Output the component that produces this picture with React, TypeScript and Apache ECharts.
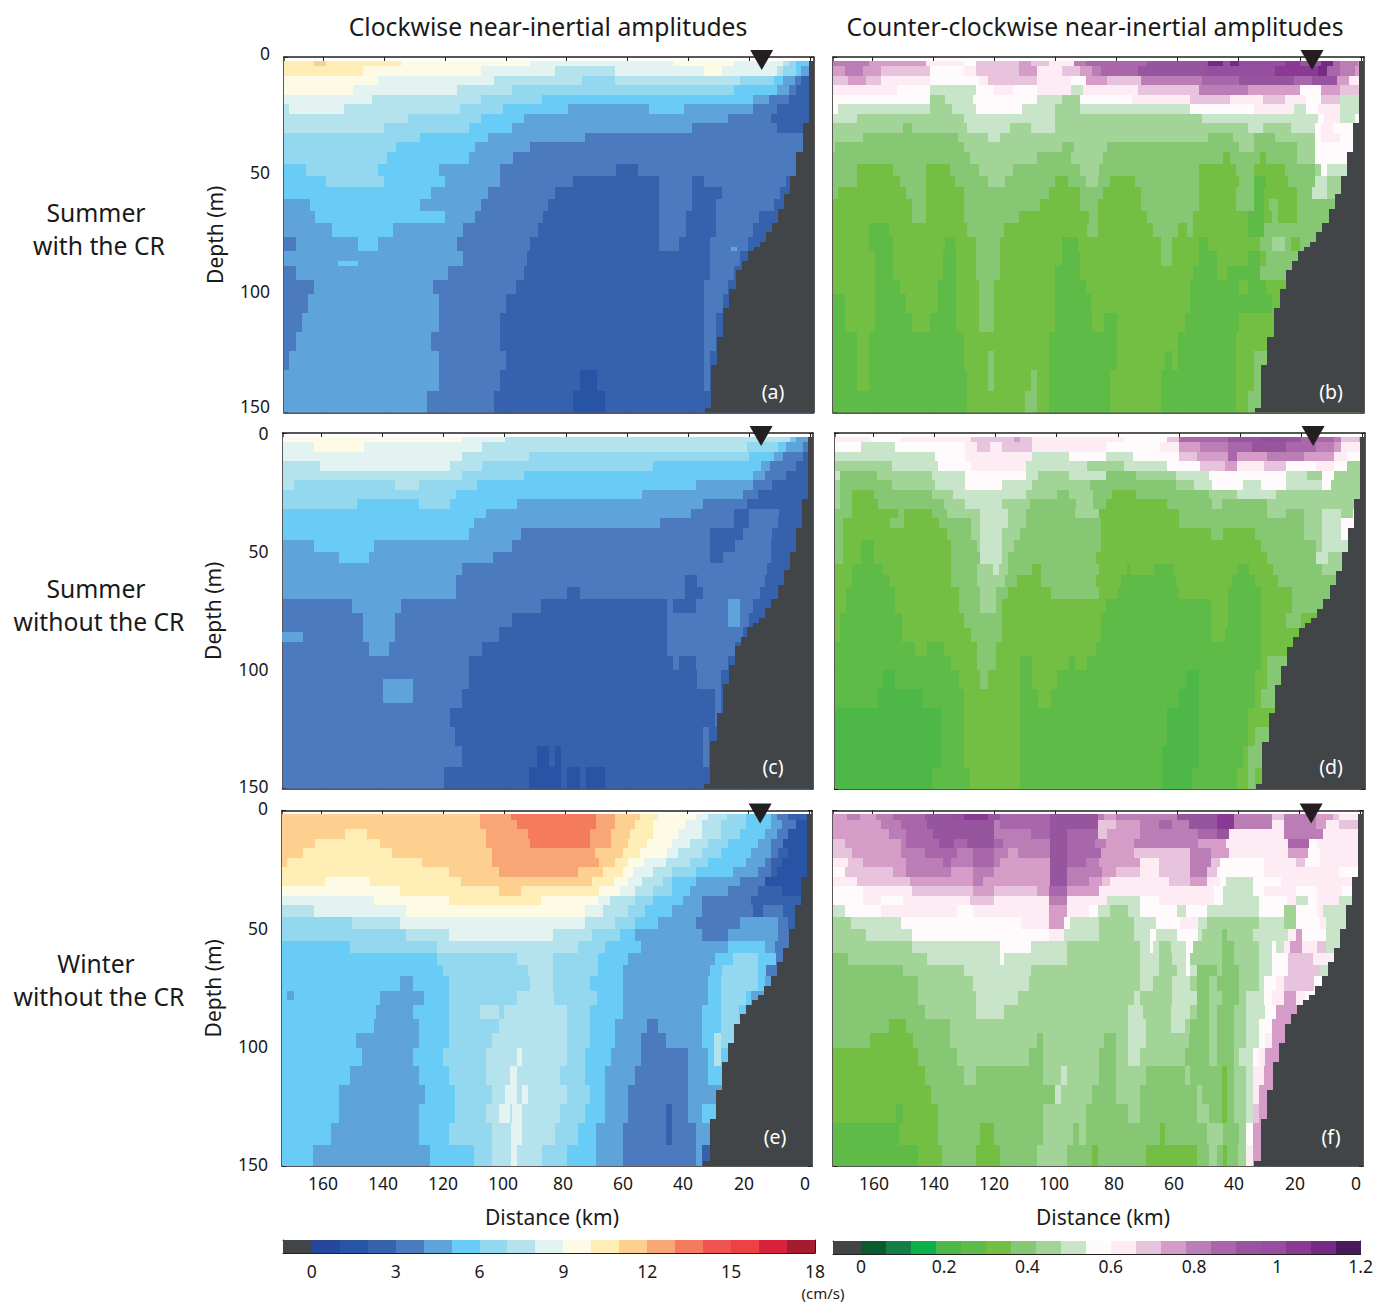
import React, { useEffect, useRef } from "react";
import * as echarts from "echarts";

const FONT = "Noto Sans";
const INK = "#231f20";
const LAND = "#414548";

// colour classes (one per 1 cm/s for clockwise, one per 0.06 cm/s for counter-clockwise)
const CW_COLORS = ["#26479c","#2754a4","#3662ad","#4b7abe","#5ea4da","#68ccf6","#93d8ee","#b4e2ed","#e3f3f2","#fdfbe5","#feedb4","#fed08f","#f9a677","#f47b5e","#ef5350","#ee4144","#d9233b","#a51c30"];
const CCW_COLORS = ["#0a5c2e","#127f45","#0db14b","#4db848","#5fbb47","#72bf44","#86c773","#a2d498","#c9e5c9","#fffbfd","#fdecf4","#e8c3dd","#d49cc7","#bb7db6","#a966aa","#98559f","#964fa0","#8a3a94","#762a83","#481a57"];
const CW_STEP = 1;
const CCW_STEP = 0.06;

const DISTANCE_TICKS = [160, 140, 120, 100, 80, 60, 40, 20, 0];
const DISTANCE_LABEL_SHIFT = [2, 1, 0, -1, -2, -3, -4, -4, -4];
const DEPTH_TICKS = [0, 50, 100, 150];
const CW_BAR_TICKS = [0, 3, 6, 9, 12, 15, 18];
const CCW_BAR_TICKS = [0, 0.2, 0.4, 0.6, 0.8, 1, 1.2];
const STATION_KM = 16;

// depth layers (m) shared by every section; each row string holds "class:endKm" runs from offshore to the coast
const DEPTH_EDGES = [1.5,4,8,12,16,20,24,28,32,36,40,45,50,55,60,65,70,76,82,88,94,100,108,116,124,132,141,150];

const SECTION_A = [
"A:163 B:159 A:134.5 9:92 8:45 9:25 8:9 7:7 6:4.7 5:0",
"A:147 9:108 8:84 7:64 8:35 9:29 8:11 7:9 6:4.7 5:3 4:0",
"9:142 8:104 7:75 6:64 7:23 6:12 5:9 4:5 3:3 2:0",
"9:150 8:116 7:98 6:25 5:11 4:7 3:4.7 2:0",
"8:144 7:108 6:88 5:19 4:13.5 3:7 2:0",
"7:171 8:153 7:115 6:101 5:79.5 4:53 5:41.5 4:19 3:11 2:0",
"7:132 6:108 5:94 4:27 3:13 2:0",
"7:140 6:112 5:98 4:39 3:11 2:3",
"6:128 5:106 4:74 3:0",
"6:136 5:110 4:92 3:0",
"6:139 5:112 4:97.7 3:0",
"5:165.5 6:142 5:122 4:102 3:63.7 2:56.7 3:0",
"5:159 6:140 5:120 4:102 3:78 2:49.7 3:39 2:35 3:8 2:0",
"5:124.6 4:106 3:84 2:49.7 3:39 2:29 3:10 2:0",
"4:164.3 5:128 4:108 3:86 2:49.7 3:39 2:31 3:12 2:0",
"4:162.6 5:120 4:110 3:87.7 2:49.7 3:41 2:31 3:17 2:0",
"4:157 5:137 4:114 3:89.5 2:49.7 3:41 2:31 3:19 2:0",
"3:169 4:148.5 5:142 4:116 3:92 2:49.7 3:43 2:33 3:20.5 2:0",
"4:114 3:93 2:33 3:23 2:0",
"3:169 4:119 3:94 2:33 3:25 2:0",
"3:163 4:124 3:96.5 2:35 3:27 2:0",
"3:165 4:122 3:100 2:35 3:28.7 2:0",
"3:167 4:122 3:102 2:35 3:31 2:0",
"3:169 4:124.6 3:102 2:35 3:31 2:0",
"3:171 4:122 3:100 2:35 3:33 2:0",
"4:122 3:102 2:75.7 1:70 2:35 3:33 2:0",
"4:126 3:104 2:77.8 1:67.5 2:0",
];
const PATCHES_A = [[86,88,155,148.5,5],[80,82,26,24,4]];

const SECTION_B = [
"d:161 c:142.5 a:130 9:126 b:112 c:108 b:102 a:94 d:90 e:70 f:50 i:45 g:43 i:40 g:25 h:20 f:13 i:9 e:7 d:1 c:0",
"c:169 d:163 c:157 b:141 9:130 a:126 b:112 c:106 a:98 b:92 c:88 d:85 e:73 f:51 g:28 h:14 i:11 e:7 d:2 c:0",
"b:168 c:162 b:157 a:141 9:125 a:122 b:106 a:95 9:90 c:83 b:72 d:52 e:40 f:22 e:16 f:8 c:4 a:0",
"a:152 9:141 8:126 9:120 a:114 9:106 a:95 8:91 a:73 b:53 d:37 c:20 9:13 c:7 b:0",
"9:141 7:136 8:127 9:106 8:98 7:92 9:75 a:56 b:43 a:32 b:25 a:18 9:13 b:7 8:0",
"9:171 8:141 7:134 8:126 9:111 8:100 7:92 8:56 9:35 a:22 8:18 9:14 a:7 8:0",
"8:165 7:130 8:100 7:52 8:14 9:12 a:7 8:2 9:0",
"7:150 6:147 7:129 8:115 7:108 8:100 7:37 8:32 7:23 8:15 9:13 a:9 9:0",
"7:163 6:132 7:122 8:118 7:50 6:42 7:35 6:28 7:15 9:13 a:7 9:0",
"7:172 6:130 7:98 6:94 7:83 6:40 7:35 6:21 7:15 9:5",
"6:128 7:106 6:95 7:84.5 6:45 5:43 6:33 5:31 6:21 7:15 9:7",
"6:165 5:153 6:142.5 5:134.5 6:125 7:114 6:92 7:85.6 6:53 5:41 6:35 5:25 6:15 7:13 9:11 8:7",
"6:165 5:151 6:142.5 5:133 6:122 7:116.6 6:100 5:96 6:90 7:86 6:82 5:74 6:53 5:40 6:35 4:31 5:24 6:15 8:11 7:7",
"6:171 5:149 6:142.5 5:130 6:102 5:92 6:84.5 5:72 6:53 5:41 6:35 4:31.6 5:21 6:16 8:11 7:8",
"5:147 6:142.5 5:130 6:105 5:92 6:86 5:72 6:53 5:41 6:35 4:31.6 5:30 6:27 5:21 6:8",
"5:147 6:142.5 5:130 6:112 5:89 6:86 5:70 6:55 5:37 4:31.6 5:29 6:27 5:21 6:11",
"5:161 4:154.6 5:129 6:116.7 5:89.6 6:86 5:68 6:60 5:57 6:55 5:37 4:31.6 6:15",
"5:161 4:153 5:136 4:132.8 5:126 6:118 5:98 4:92.5 5:65.5 6:62 5:53 4:50 5:33 6:29 7:25 6:23 5:20 6:15",
"5:159 4:153 5:136.8 4:132.5 5:126 6:118 5:98 4:92 5:65.5 6:62 5:53 4:47 5:37 4:33 5:31 6:24.7",
"5:159 4:153 5:136.8 4:132.5 5:126 6:118 5:100 4:92 5:55 4:47 5:44 4:33 6:27",
"5:159 4:151 5:138.5 4:132.5 5:125 6:120 5:100 4:90 5:56 4:40 5:37 4:31 5:0",
"4:169 5:159 4:149 5:138.5 4:132.5 5:125 6:120 5:100 4:88.5 5:56 4:29 5:0",
"4:169 5:159 4:147 5:141 4:132.5 5:125 6:120 5:100 4:88 5:84 4:80 5:57.5 4:40 5:0",
"4:165 5:161 4:130 5:102 4:80 5:60 4:41 5:0",
"4:165 5:161 4:130 5:122 6:120 5:102 4:80 5:64 4:62 5:60 4:41 5:35 6:33",
"4:165 5:161 4:129 5:122 6:120 5:108 6:106 5:102 4:82 5:65.5 4:41 5:35 6:0",
"4:129 5:110 6:106 5:102 4:82 5:65.5 4:41 5:37 6:0",
];

const SECTION_C = [
"9:114 8:100 7:6.4 5:4.7 4:0",
"8:162.5 9:146 8:107.6 7:20.5 6:10.5 5:8 4:2.3 3:0",
"8:114 7:92 6:20 5:11.7 4:8.8 3:2.3 2:0",
"7:160.6 8:118 7:107.6 6:51.5 5:16 4:13 3:4.7 2:0",
"7:114 6:93.6 5:18.7 4:14.6 3:8 2:0",
"7:169 6:136 7:128 6:109 5:37.4 4:18.7 3:12.3 2:0",
"6:116 5:55 4:22 3:17 2:0",
"6:148.5 5:128 6:118 5:96 4:35 3:20.5 2:0",
"5:106 4:39 3:25 2:20 3:10 2:0",
"5:110 4:49 3:25 2:20 3:10.5 2:0",
"5:111.7 4:94.7 3:32.7 2:22 3:12.3 2:0",
"4:162.6 5:142.7 4:97.7 3:32.7 2:24.6 3:12.9 2:0",
"4:154.4 5:144.4 4:104 3:32.7 2:28.6 3:12.9 2:0",
"4:114 3:14 2:0",
"4:115.8 3:41 2:37 3:14.6 2:0",
"4:115.8 3:79.5 2:75.4 3:41 2:35 3:16.4 2:0",
"3:150 4:134 3:88 2:46.8 3:45 2:37.4 3:27 4:22.8 3:18.7 2:0",
"3:146.4 4:136 3:97.7 2:46.8 3:27 4:22.8 3:20 2:0",
"3:146.4 4:136 3:102 2:46.8 3:22 2:0",
"3:144.4 4:138 3:107.6 2:46.8 3:24.6 2:0",
"3:111.7 2:45 3:43 2:37.4 3:27 2:0",
"3:111.7 2:37 3:29 2:0",
"3:114 2:31 3:29 2:0",
"3:118 2:31 3:29 2:0",
"3:116.4 2:35 3:33 2:0",
"3:114 2:89.5 1:85.6 2:83.6 1:81.6 2:35 3:33 2:0",
"3:120 2:92 1:81.6 2:79.5 1:75.4 2:73.5 1:67 2:0",
];
const PATCHES_C = [[84,88,173,166,4],[104,114,140,130,4]];

const SECTION_D = [
"a:161 9:151 a:128 b:114 c:112 b:108 a:78 9:64 b:60 e:44 f:33 g:25 f:20 e:9 d:7 b:1 c:0",
"9:164 8:153 9:130 a:126 b:122 a:118 b:108 a:84 9:66 a:60 c:53 d:44 e:36 f:25 e:15 d:9 c:7 a:0",
"8:140 9:130 a:108 8:96 9:84 8:75 9:60 b:54 c:44 e:41 c:31 d:19 c:9 a:5 9:0",
"7:154 8:139 9:128 a:110 8:90 7:78 8:64 9:53 b:45 c:41 a:32 b:25 9:15 a:9 9:5 7:0",
"8:171 6:159 7:141 8:130 9:110 8:106 7:96 8:84 6:74 7:61 8:50 9:25 8:18 7:13 9:9 7:0",
"7:171 6:154 7:140 8:130 9:118 8:108 7:89 6:61 7:55 8:49 9:39 8:33 9:25 8:13 9:10 7:0",
"7:171 6:167 5:160 6:141 7:134 8:110 7:100 6:96 7:88 6:82 5:74 6:50 7:41 8:28 7:0",
"7:171 6:167 5:158.6 6:137 7:130 8:118 7:108.6 6:93.7 7:88 6:84 5:64 6:49 7:46 6:31 7:10",
"6:167 5:152 6:150 5:141 6:136 7:125 8:116 7:110 6:94 7:86 5:60 6:31 7:25 6:19 7:13 8:7 7:3 9:0",
"6:170 5:154.6 6:150 5:138.5 6:128 7:125 8:116 7:110 6:85.6 5:60 6:19 7:13 8:7 9:5",
"6:170 5:136 6:128 7:125 8:118 7:112 6:85.6 5:49.4 6:45.4 5:35 6:19 7:13 8:7 9:5",
"6:170 5:164 4:160 5:134.5 6:126 7:125 8:118 7:114 6:85.6 5:33 6:15 7:13 8:7",
"6:170 5:164 4:160 5:134.5 6:125 8:118 7:116 6:87 5:31 6:15 8:11 7:7",
"5:167 4:157 5:134.5 6:126 7:121 8:119 7:116 6:108 5:105 6:86 5:77 4:76 5:68 4:62 5:41 4:37 5:29 6:13 7:0",
"5:167 4:154.6 5:134.5 6:126 7:117 6:113 5:105 6:87 5:79 4:61 5:42.5 4:35 5:27.5 6:11",
"5:169 4:153 5:132 6:125 7:120 6:116 5:102 6:86 5:80 4:60 5:44 4:33 5:23 6:12",
"5:169 4:153 5:132 6:125 7:120 6:118 5:84 4:49.4 5:44 4:33 5:23 6:15",
"5:171 4:150.6 5:130.5 6:118 5:85.6 4:49.4 5:44 4:33 5:25 6:20 5:0",
"5:171 4:150.6 5:128 6:118 5:85.6 4:49.4 5:45 4:33 5:0",
"4:146.5 5:142.5 4:137 5:126 6:120 5:87 4:33 5:0",
"4:134.5 5:126 6:120 5:112 4:108 5:96 4:94 5:90 4:33 5:31 6:29",
"4:157 3:153 4:132 5:125 6:122.5 5:112 4:108 5:100 4:57.5 3:53.4 4:35 5:31 6:29",
"4:158.6 3:144 4:130.5 5:112 4:106 5:102 4:60 3:53.4 4:35 5:33 6:29",
"3:138 4:130.5 5:112 4:64 3:53.4 4:37.4 5:0",
"3:138 4:130.5 5:112 4:64 3:53.4 4:37.4 5:35 6:33",
"3:138 4:130.5 5:112 4:65.5 3:53.4 4:39 5:37.4 6:33",
"3:141 4:128.5 5:112 4:65.5 3:55.7 4:41 5:37.4 6:35 5:0",
];

const SECTION_E = [
"B:108 C:97.8 D:69.7 C:63.5 B:55.3 A:49.5 9:37.2 8:33 7:27 6:20.8 5:12.6 4:10.6 3:6.8 2:0",
"B:108 C:95.7 D:69.7 C:63.5 B:57 A:51 9:40.7 8:35 7:29 6:20.8 5:12.6 4:8.8 3:4.4 1:0",
"B:152 A:144.8 B:106 C:92 D:71.7 C:65 B:58.8 A:51 9:43 8:35 7:29 6:22.6 5:14.4 4:10.6 3:6.8 1:0",
"B:162 A:140.7 B:106 C:91.6 D:71.7 C:65 B:59.4 A:53 9:44.8 8:39 7:33 6:26.7 5:16.7 4:12.6 3:8.5 1:0",
"B:166 A:136.6 B:103.9 C:70 B:61 A:55.3 9:46.5 8:43 7:35 6:29 5:19 4:12.6 3:10 2:6.8 1:0",
"B:171 A:127 B:104 C:69 B:63.5 A:59.4 9:54 8:47 7:39 6:33 5:20.8 4:14.4 3:12.6 2:8.8 1:0",
"A:118 B:101.5 C:75.8 B:67.6 A:61 9:57.7 8:51 7:45 6:37 5:25 4:16.7 3:12.6 2:10.6 1:0",
"A:158.8 9:144 A:114 B:71 A:64 9:59.4 8:54.7 7:47.7 6:44.8 5:37 4:22.6 3:14.4 1:0",
"9:134 A:101.5 B:94.5 A:69 9:61.8 8:57 7:51 6:44.8 5:39 4:26.7 3:16.7 2:9 1:4.4",
"8:142.5 9:118 A:88 9:69.3 8:65.3 7:57 6:51 5:41.3 4:35 3:19 2:5",
"7:162.3 8:132 9:73.5 8:67.6 7:59.4 6:53.6 5:44.8 4:35 3:18.5 2:15 3:8.5 2:4.4",
"6:150 7:134 8:73.5 7:63.5 6:57 5:49.5 4:37 3:22.6 4:10.3 3:6.8 2:0",
"6:132 7:118 8:84 7:71 6:62 5:57 4:35 3:26.7 4:10.3 3:7",
"5:150.6 6:122 7:75.8 6:67 5:55 4:26.7 5:14.4 4:11 3:7",
"5:122 6:95.7 7:84 6:69.3 5:59.4 4:30.8 5:25 6:16.7 5:10.9 3:0",
"5:120 6:92 7:84 6:69.3 5:61 4:32.5 5:28.4 6:16.7 5:14 3:0",
"5:134 4:130 5:118 6:91.6 7:84 6:71.7 5:61 4:33 5:29 6:16.7 5:14.4 4:0",
"5:140.7 4:126.3 5:118 6:95.7 7:83.6 6:69.4 5:61 4:33 5:29 6:20.8 5:19 4:0",
"5:142 4:130 5:118 6:108 7:101.5 6:100 7:79.3 6:71.7 5:61 4:35 5:29 6:23 5:20.8",
"5:142.5 4:128 5:118 6:101.8 7:79.3 6:71.7 5:63.5 4:53 3:49.5 4:35 5:29 6:25",
"5:148.5 4:128 5:118 6:103.9 7:79.3 6:71.7 5:63.5 4:55 3:47 4:35 5:31 7:28.8 6:26.7",
"5:146.5 4:130 5:120 6:106 7:95.7 8:94 7:79.3 6:73.5 5:65 4:55 3:39.5 4:33 5:31 7:28.8 5:0",
"5:150.6 4:128 5:118 6:106 7:98 8:95.7 7:81.6 6:73.5 5:67 4:57 3:39.5 4:33 5:29",
"5:154 4:126 5:116 6:103.9 7:99.8 8:95.7 7:94 8:92 7:79.3 6:71.7 5:67 4:59.4 3:39.5 4:32.5",
"5:154 4:128 5:116 6:106 7:101.5 8:98 7:97.4 8:94 7:81.6 6:73.5 5:67 4:59.4 3:47 2:45 3:39.5 4:35 5:33",
"5:156.7 4:128 5:118 6:103.9 7:97.8 8:94 7:83.4 6:75.6 5:69.7 4:61 3:47 2:45 3:37 4:33",
"5:162.6 4:124.3 5:110 6:103.9 7:97.8 8:95.7 7:87.5 6:79.3 5:69.7 4:61 3:37 4:35 2:33",
];
const PATCHES_E = [[76,80,171,169,4]];

const SECTION_F = [
"c:168.3 d:164 c:158.6 d:153 e:142.5 f:134 g:130 h:122 f:118 e:101.7 f:86 d:84 c:80 d:60 f:47 h:41.4 d:29 b:25 d:14.4 c:9 b:7 a:0",
"c:157 d:150.6 e:142 f:120 d:118 e:101.7 f:86 b:80 c:72 d:66 e:61.5 d:56 f:47 h:41.4 d:29 a:25 d:14.4 c:11 a:7 b:0",
"c:154.6 d:149 e:140 f:120 d:108 e:101.7 f:96 e:86 b:83 c:72 d:53 e:47 f:43 a:25 d:12 a:0",
"b:169 c:150.6 d:149 e:138 f:133 e:129 f:120 e:117 d:101.7 f:96 e:87 d:83.3 c:74 d:53 c:44 a:23.6 e:16.7 9:14 a:0",
"b:166.6 c:150.6 d:142.5 e:132 d:127 e:120 d:115.5 c:112 d:101.7 f:96 e:85 c:74 b:55.7 d:49 c:43 a:23.6 c:17 9:13 a:0",
"a:168 b:163 c:149 d:136.8 e:134 d:127 e:120 d:118 c:101.7 f:96 e:89.7 d:85.6 c:72 a:66 b:55.7 d:49 b:46 9:31.6 a:21 b:18 9:13 a:0",
"9:169 b:153 c:149 d:134 c:127 d:120 c:101.7 f:96 d:84.5 c:80 b:72 a:66 b:55.7 d:50 b:47 9:31.6 a:7 9:1",
"a:165 b:147.7 c:127 d:123.6 c:101.7 f:96 d:89 c:84.5 b:82 a:62.6 b:55.7 c:50 a:46 9:44 8:35 9:26 a:0",
"9:163 a:147 b:127 c:120 b:106 c:102 e:96 c:85.6 a:48 9:45 8:35 9:31.6 a:21 9:14 a:6 9:0",
"9:163 a:157 9:150 a:128 b:120 a:102 d:96 a:83 8:72 9:66 a:48 9:45 8:33 9:24 a:21 8:17 9:14 a:7 8:3",
"8:169 9:157 a:132 9:127 a:102 c:96 a:89 9:86 8:82 7:76 8:72 9:60 8:57 9:50 8:33 9:25 7:21 9:14 a:12 8:7",
"7:167 8:150.6 9:111 a:102 c:97 9:95 8:85.6 7:74 8:67 9:59 a:53 8:50 7:33 8:25 7:21 9:13 a:11 8:7",
"7:162 8:147 9:102 a:97 8:85.6 7:74 8:69 9:67 8:60 9:53 8:51.7 7:45.4 6:43.7 7:35 8:23.6 a:21 c:19 9:11 8:7",
"7:147 8:118 9:108 8:96 7:72 8:69 9:67.8 8:66 7:62 8:57 9:54.6 7:45.4 6:41.4 7:33 8:29 9:27.5 8:25 a:23 c:19 a:14 b:11 8:8",
"6:168 7:142 8:118 9:116.6 8:96 7:72 8:66 7:61.5 8:57 9:55.7 7:45.4 6:41.4 7:33 8:29 9:23.6 b:15.5 a:11",
"6:150 7:130 8:108 7:72 8:66 7:60 8:57 9:55.7 8:53.4 6:47 7:45.4 6:39.6 7:33 8:29 9:23.6 b:13 8:11",
"6:145 7:127 8:108.6 7:72 8:68 7:61.5 8:55.7 7:53.4 6:49.4 7:47 6:39.6 7:33 8:31.6 9:27.5 a:25 b:15 9:13",
"6:145 7:126 8:112 7:74 8:72 7:61.5 8:53.4 6:49.4 7:45.4 6:39.6 7:37.4 8:31.6 9:29 a:25 c:21 a:18 9:0",
"6:142.5 7:126 8:116.7 7:76 8:71 7:62 8:55.7 7:53.4 6:49.4 7:47 6:41.4 7:37.4 8:31 9:27.6 c:21",
"6:154.6 5:149 6:134.5 7:76 8:70 7:62 8:57.5 7:55.7 6:49.4 7:47 6:41.4 7:37.4 8:33 9:29 c:25",
"6:160.6 5:146.6 6:134.5 7:106 6:104 7:84 6:80 7:76 8:70 7:56 6:49.4 7:47 6:41.4 7:37.4 8:33 9:31 a:29 c:27",
"5:145 6:132 7:108.6 6:104 7:85.6 6:80 7:76 8:72 7:57.5 6:49.4 7:47 6:41.4 7:39.6 8:35 9:33 a:31 c:29",
"5:142.5 6:130 7:126 6:104 7:98 8:96 7:85.6 6:80 7:70 6:57.5 7:55.7 6:45.4 5:43.7 6:41.4 7:37.4 8:35 a:31.6 c:29",
"5:140.8 6:100 8:98 7:88 6:80 7:72 6:53.4 7:51.7 6:45.4 5:43.7 6:41.4 7:37.4 8:35 a:33 c:31.6",
"5:152 4:150 5:138.5 6:104 7:89.7 6:76 7:72 6:53.4 7:49.4 6:45.4 5:43.7 6:41.4 7:37.4 8:35 b:33 c:31.6",
"4:151 5:138.5 6:124.7 5:120 6:104 7:94 6:92 7:89.7 6:65.5 5:64 6:50 7:45 6:39.6 7:37.4 9:35 c:33",
"4:145 5:137 6:126 5:118 6:106 7:96 6:88 5:86 6:70 5:53.4 6:49.4 7:47 6:45 5:43.7 6:40 7:37.4 a:35 c:33",
];

// the sea floor: 2 km wide columns going offshore, and the depth at which land starts in each
const SHELF_KM = [-1,0.6,2.6,4.6,6.6,8.6,10.6,12.6,14.6,16.6,18.6,20.6,22.6,24.6,26.6,28.6,30.6,32.6,34.6];
const SHELF_DEPTH = [1.5,28,40,50,58,64,70,74,78,80,82,86,90,98,106,118,130,148];

const KM_MIN = -1;
const KM_MAX = 172.8;

const PANELS = [
  { id: "(a)", rows: SECTION_A, patches: PATCHES_A, cw: true, left: 284, right: 813.5, top: 57, bottom: 412.5, labelX: 773, labelY: 391, yLabels: true, yShift: [4, 3.5, 3, 7] },
  { id: "(b)", rows: SECTION_B, patches: [], cw: false, left: 833, right: 1364, top: 57, bottom: 412.5, labelX: 1331, labelY: 391 },
  { id: "(c)", rows: SECTION_C, patches: PATCHES_C, cw: true, left: 282.5, right: 813, top: 433, bottom: 788.5, labelX: 773, labelY: 766, yLabels: true, yShift: [0, 0.5, 1, 3] },
  { id: "(d)", rows: SECTION_D, patches: [], cw: false, left: 834.5, right: 1365, top: 433, bottom: 789, labelX: 1331, labelY: 766 },
  { id: "(e)", rows: SECTION_E, patches: PATCHES_E, cw: true, left: 282, right: 812, top: 810.5, bottom: 1166, labelX: 775, labelY: 1136, yLabels: true, yShift: [3, 1, 2, 2], xLabels: true },
  { id: "(f)", rows: SECTION_F, patches: [], cw: false, left: 833, right: 1363, top: 810.5, bottom: 1166, labelX: 1331, labelY: 1136, xLabels: true },
];

const COLUMN_TITLES = [
  { text: "Clockwise near-inertial amplitudes", x: 548, y: 26 },
  { text: "Counter-clockwise near-inertial amplitudes", x: 1095, y: 26 },
];
const ROW_TITLES = [
  { text: "Summer", x: 96, y: 212 }, { text: "with the CR", x: 99, y: 245 },
  { text: "Summer", x: 96, y: 588 }, { text: "without the CR", x: 99, y: 621 },
  { text: "Winter", x: 96, y: 963 }, { text: "without the CR", x: 99, y: 996 },
];

function buildCells(rows: string[], patches: number[][], step: number) {
  const cells: number[][] = [];
  rows.forEach((row, r) => {
    let from = KM_MAX;
    const runs = row.split(" ");
    runs.forEach((run, i) => {
      const [cls, end] = run.split(":");
      const to = i === runs.length - 1 ? KM_MIN : Number(end);
      cells.push([from, to, DEPTH_EDGES[r], DEPTH_EDGES[r + 1], (parseInt(cls, 36) + 0.5) * step]);
      from = to;
    });
  });
  patches.forEach((p) => cells.push([p[2], p[3], p[0], p[1], (p[4] + 0.5) * step]));
  return cells;
}

function buildLand() {
  return SHELF_DEPTH.map((d, i) => [SHELF_KM[i + 1], SHELF_KM[i], d, 150, -1]);
}

function rectRenderer(colors: string[], step: number) {
  return (_: any, api: any) => {
    const a = api.coord([api.value(0), api.value(2)]);
    const b = api.coord([api.value(1), api.value(3)]);
    const v = api.value(4);
    const fill = v < 0 ? LAND : colors[Math.floor(v / step)];
    const x0 = Math.round(a[0]);
    const y0 = Math.round(a[1]);
    return {
      type: "rect",
      shape: { x: x0, y: y0, width: Math.round(b[0]) - x0, height: Math.round(b[1]) - y0 },
      style: { fill },
    };
  };
}

function textEl(text: string, x: number, y: number, size: number, fill = "#1a1a1a") {
  return {
    type: "text", x, y, silent: true, z: 50,
    style: { text, fill, font: `${size}px "${FONT}"`, textAlign: "center", textVerticalAlign: "middle" },
  };
}

function buildOption() {
  const grid: any[] = [];
  const xAxis: any[] = [];
  const yAxis: any[] = [];
  const series: any[] = [];
  const line = { show: true, onZero: false, lineStyle: { color: INK, width: 1.5 } };
  const tick = (customValues?: number[]) => ({ show: true, inside: true, length: 4, lineStyle: { color: INK, width: 1 }, ...(customValues ? { customValues } : {}) });

  PANELS.forEach((p: any, i) => {
    grid.push({ left: p.left, top: p.top, width: p.right - p.left, height: p.bottom - p.top, containLabel: false });
    const xi = xAxis.length;
    const yi = yAxis.length;
    const xBase = { type: "value", gridIndex: i, inverse: true, min: KM_MIN, max: KM_MAX, axisLine: line, axisTick: tick(DISTANCE_TICKS), splitLine: { show: false } };
    const xRich: any = {};
    DISTANCE_TICKS.forEach((v, k) => {
      const s = DISTANCE_LABEL_SHIFT[k];
      xRich["k" + v] = { fontFamily: FONT, fontSize: 17.5, color: "#1a1a1a", padding: s > 0 ? [0, 0, 0, 2 * s] : [0, -2 * s, 0, 0] };
    });
    xAxis.push({
      ...xBase,
      position: "bottom",
      axisLabel: p.xLabels
        ? { show: true, customValues: DISTANCE_TICKS, margin: 8, formatter: (v: number) => `{k${v}|${v}}`, rich: xRich }
        : { show: false },
      ...(p.xLabels
        ? { name: "Distance (km)", nameLocation: "middle", nameGap: 40, nameTextStyle: { fontFamily: FONT, fontSize: 21, color: "#1a1a1a", padding: [0, 0, 0, 10] } }
        : {}),
    });
    xAxis.push({ ...xBase, position: "top", axisLabel: { show: false } });
    const yBase = { type: "value", gridIndex: i, inverse: true, min: 0, max: 150, interval: 50, axisLine: line, axisTick: tick(), splitLine: { show: false } };
    const yRich: any = {};
    if (p.yLabels) DEPTH_TICKS.forEach((v, k) => {
      yRich["d" + v] = { fontFamily: FONT, fontSize: 17.5, color: "#1a1a1a", padding: [0, 0, 2 * p.yShift[k], 0] };
    });
    yAxis.push({
      ...yBase,
      position: "left",
      axisLabel: p.yLabels ? { show: true, margin: 14, formatter: (v: number) => `{d${v}|${v}}`, rich: yRich } : { show: false },
      ...(p.yLabels
        ? { name: "Depth (m)", nameLocation: "middle", nameGap: 59, nameRotate: 90, nameTextStyle: { fontFamily: FONT, fontSize: 21, color: "#1a1a1a" } }
        : {}),
    });
    yAxis.push({ ...yBase, position: "right", axisLabel: { show: false } });

    const colors = p.cw ? CW_COLORS : CCW_COLORS;
    const step = p.cw ? CW_STEP : CCW_STEP;
    const common = { type: "custom", xAxisIndex: xi, yAxisIndex: yi, clip: true, silent: true, encode: { x: [0, 1], y: [2, 3] }, renderItem: rectRenderer(colors, step) };
    series.push({ ...common, name: p.id + " amplitude", data: buildCells(p.rows, p.patches, step), z: 2 });
    series.push({ ...common, name: p.id + " land", data: buildLand(), z: 3 });
    series.push({
      type: "scatter", name: p.id + " station", xAxisIndex: xi, yAxisIndex: yi, clip: false, silent: true, z: 10,
      symbol: "triangle", symbolSize: [23, 20], symbolRotate: 180, itemStyle: { color: INK, opacity: 1 }, data: [[STATION_KM, 1.3]],
    });
  });

  // the two colour bars
  const bars = [
    { left: 283, width: 532, top: 1240, colors: CW_COLORS, step: CW_STEP, ticks: CW_BAR_TICKS, min: -1.03, max: 18, margin: 9 },
    { left: 833, width: 530, top: 1241, colors: CCW_COLORS, step: CCW_STEP, ticks: CCW_BAR_TICKS, min: -0.067, max: 1.2, margin: 3 },
  ];
  bars.forEach((b) => {
    const gi = grid.length;
    grid.push({ left: b.left, top: b.top, width: b.width, height: 13 });
    const xi = xAxis.length;
    const yi = yAxis.length;
    const xBase = { type: "value", gridIndex: gi, min: b.min, max: b.max, axisLine: { ...line, lineStyle: { color: INK, width: 1 } }, axisTick: { ...tick(b.ticks), length: 3 }, splitLine: { show: false } };
    xAxis.push({ ...xBase, position: "bottom", axisLabel: { show: true, customValues: b.ticks, margin: b.margin, fontFamily: FONT, fontSize: 17.5, color: "#1a1a1a", formatter: (v: number) => String(v) } });
    xAxis.push({ ...xBase, position: "top", axisLabel: { show: false } });
    const yBase = { type: "value", gridIndex: gi, min: 0, max: 1, axisLine: { ...line, lineStyle: { color: INK, width: 1 } }, axisTick: { show: false }, axisLabel: { show: false }, splitLine: { show: false } };
    yAxis.push({ ...yBase, position: "left" });
    yAxis.push({ ...yBase, position: "right" });
    const data: number[][] = [[b.min, 0, 0, 1, -1]];
    b.colors.forEach((_, k) => data.push([k * b.step, (k + 1) * b.step, 0, 1, (k + 0.5) * b.step]));
    series.push({
      type: "custom", xAxisIndex: xi, yAxisIndex: yi, silent: true, clip: true, z: 2, encode: { x: [0, 1], y: [2, 3] },
      data,
      renderItem: (_: any, api: any) => {
        const p0 = api.coord([api.value(0), api.value(3)]);
        const p1 = api.coord([api.value(1), api.value(2)]);
        const v = api.value(4);
        const x0 = Math.round(p0[0]);
        return {
          type: "rect",
          shape: { x: x0, y: p0[1], width: Math.round(p1[0]) - x0, height: p1[1] - p0[1] },
          style: { fill: v < 0 ? LAND : b.colors[Math.floor(v / b.step)] },
        };
      },
    });
  });

  const elements: any[] = [];
  COLUMN_TITLES.forEach((t) => elements.push(textEl(t.text, t.x, t.y, 24.7)));
  ROW_TITLES.forEach((t) => elements.push(textEl(t.text, t.x, t.y, 24.7)));
  PANELS.forEach((p) => elements.push(textEl(p.id, p.labelX, p.labelY, 19.5, "#ffffff")));
  elements.push(textEl("(cm/s)", 823, 1293, 15));

  return { animation: false, backgroundColor: "#ffffff", grid, xAxis, yAxis, series, graphic: { elements } };
}

export default function App() {
  const ref = useRef<HTMLDivElement>(null);
  useEffect(() => {
    const chart = echarts.init(ref.current!, undefined, { renderer: "svg" });
    chart.setOption(buildOption() as any);
    return () => chart.dispose();
  }, []);
  return <div ref={ref} style={{ position: "absolute", left: 0, top: 0, width: 1376, height: 1303 }} />;
}
